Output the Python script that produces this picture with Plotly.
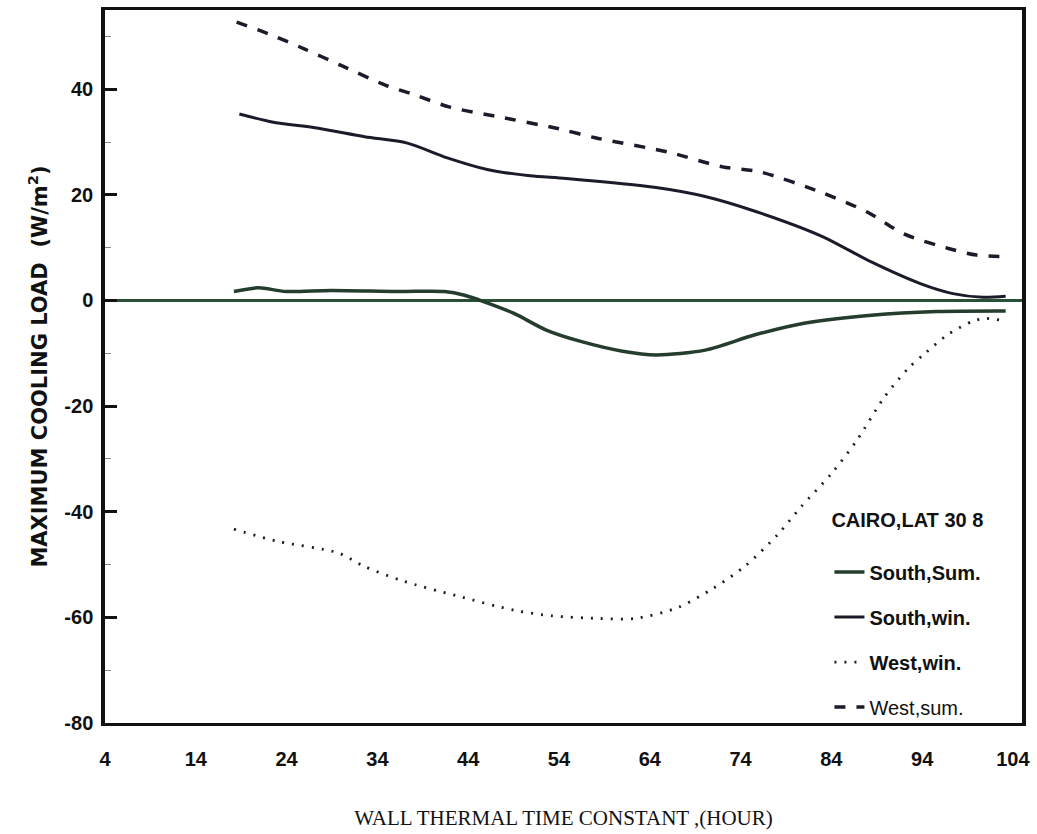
import plotly.graph_objects as go

# West, summer (dashed)
ws_x = [18.5, 22, 26, 30, 35, 38, 42, 47, 54, 58, 66, 72, 76, 83, 88, 92, 97, 100, 103.5]
ws_y = [52.7, 50.5, 47.6, 44.5, 40.7, 39, 36.6, 34.9, 32.5, 30.8, 28.1, 25.3, 24.4, 20.4, 16.7, 12.6, 9.8, 8.6, 8.3]

# South, winter (upper solid)
sw_x = [18.8, 22.4, 27.5, 32.6, 37.3, 41.7, 46.1, 50.8, 54.8, 64.7, 70.1, 75.6, 82.9, 88.4, 93.8, 97.4, 100.7, 103.2]
sw_y = [35.3, 33.8, 32.6, 31.0, 29.8, 27.0, 24.8, 23.6, 23.1, 21.4, 19.7, 16.9, 12.2, 7.3, 3.2, 1.3, 0.6, 0.8]

# South, summer (near zero)
ss_x = [18.2, 20.9, 23.9, 28.9, 36.2, 41.4, 43.6, 45.7, 49.0, 52.6, 56.5, 61.0, 64.7, 70.1, 75.6, 81.0, 88.4, 95.6, 103.2]
ss_y = [1.7, 2.4, 1.7, 1.9, 1.7, 1.7, 1.0, -0.2, -2.4, -5.6, -7.8, -9.6, -10.3, -9.4, -6.5, -4.3, -2.8, -2.1, -2.0]

# West, winter (dotted)
ww_x = [18.2, 23, 29.7, 32.5, 36.8, 42.7, 49.2, 53.2, 58.4, 62.4, 67, 70.9, 74.5, 78.1, 80.7, 84, 86.8, 89.8, 92.5, 94.4, 96.7, 99.6, 101, 103.2]
ww_y = [-43.3, -45.6, -47.8, -50.3, -53.1, -55.9, -58.7, -59.7, -60.2, -60.2, -58.2, -54.6, -50.3, -44.3, -39, -32.8, -26.5, -18.4, -12.8, -9.9, -6.6, -3.9, -3.4, -3.9]

x_ticks = [4, 14, 24, 34, 44, 54, 64, 74, 84, 94, 104]
y_ticks = [-80, -60, -40, -20, 0, 20, 40]

fig = go.Figure()
fig.add_trace(go.Scatter(x=ss_x, y=ss_y, mode="lines", name="<b>South,Sum.</b>",
                         line=dict(color="#243d2c", width=3.5, shape="spline", smoothing=0.8),
                         legendgroup="a"))
fig.add_trace(go.Scatter(x=sw_x, y=sw_y, mode="lines", name="<b>South,win.</b>",
                         line=dict(color="#1a1c2a", width=3, shape="spline", smoothing=0.8),
                         legendgroup="b"))
fig.add_trace(go.Scatter(x=ww_x, y=ww_y, mode="lines", name="<b>West,win.</b>",
                         line=dict(color="#1a1c2a", width=2.8, dash="2px,8px", shape="spline", smoothing=0.8),
                         legendgroup="c"))
fig.add_trace(go.Scatter(x=ws_x, y=ws_y, mode="lines", name="West,sum.",
                         line=dict(color="#1a1c2a", width=3.5, dash="11px,11px", shape="spline", smoothing=0.8),
                         legendgroup="d"))

font_family = "Liberation Sans, Arial, sans-serif"

fig.update_layout(
    width=1037, height=834,
    margin=dict(l=105, r=7, t=10, b=109),
    paper_bgcolor="white", plot_bgcolor="white",
    font=dict(family=font_family, color="#111"),
    showlegend=True,
    legend=dict(
        x=0.79, y=0.312, xanchor="left", yanchor="top",
        bgcolor="rgba(0,0,0,0)",
        font=dict(size=20, family=font_family, color="#111"),
        title=dict(text="<b>CAIRO,LAT 30 8</b><br> ",
                   font=dict(size=20, family=font_family, color="#111")),
        itemwidth=30,
        tracegroupgap=16,
    ),
    xaxis=dict(
        range=[4, 105],
        tickmode="array", tickvals=x_ticks,
        ticktext=[str(v) for v in x_ticks],
        tickfont=dict(size=20, family=font_family, color="#111", weight="bold"),
        ticks="", ticklabelstandoff=16,
        showgrid=False, zeroline=False,
        showline=True, linecolor="#111", linewidth=3, mirror=True,
        title=dict(text="WALL THERMAL TIME CONSTANT ,(HOUR)",
                   font=dict(size=21, family="Liberation Serif, Times New Roman, serif", color="#111"),
                   standoff=42),
    ),
    yaxis=dict(
        range=[-80, 55],
        tickmode="array", tickvals=y_ticks,
        ticktext=[str(v) for v in y_ticks],
        tickfont=dict(size=20, family=font_family, color="#111", weight="bold"),
        ticks="inside", ticklen=12, tickwidth=2.5, tickcolor="#111",
        ticklabelstandoff=4,
        minor=dict(ticks="inside", ticklen=6, tickwidth=1, tickcolor="#888", dtick=10),
        showgrid=False,
        zeroline=True, zerolinecolor="#2b5038", zerolinewidth=2.5,
        showline=True, linecolor="#111", linewidth=3.5, mirror=True,
        title=dict(text="<b>MAXIMUM COOLING LOAD  (W/m<sup>2</sup>)</b>",
                   font=dict(size=21, family="DejaVu Sans, Liberation Sans, sans-serif", color="#111"),
                   standoff=12),
    ),
)

fig.write_html("out.html")
